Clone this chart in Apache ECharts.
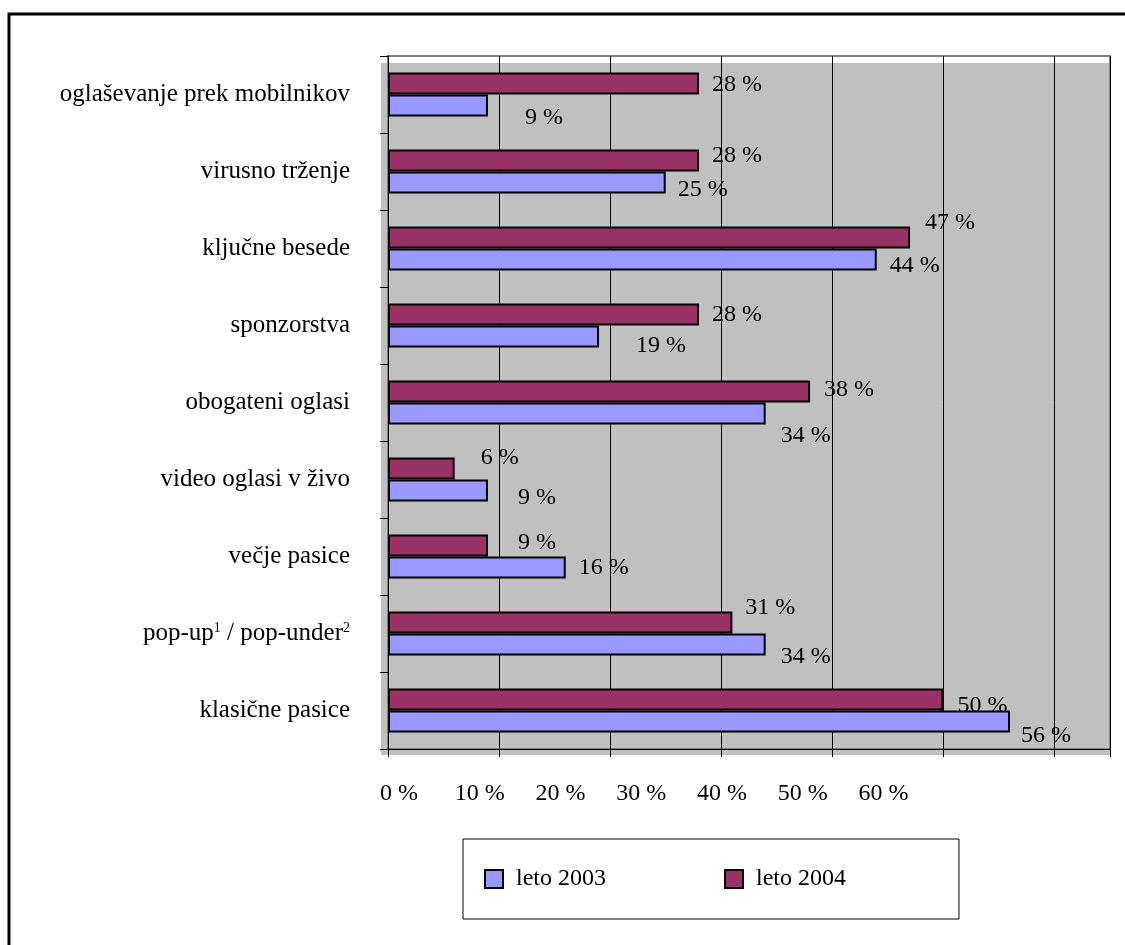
<!DOCTYPE html>
<html>
<head>
<meta charset="utf-8">
<script src="https://cdn.jsdelivr.net/npm/echarts@6/dist/echarts.min.js"></script>
<style>html,body{margin:0;padding:0;background:#fff;}#c{width:1125px;height:945px;}</style>
</head>
<body>
<div id="c"></div>
<script>
// categories, top to bottom
const categories = [
  'oglaševanje prek mobilnikov',
  'virusno trženje',
  'ključne besede',
  'sponzorstva',
  'obogateni oglasi',
  'video oglasi v živo',
  'večje pasice',
  'pop-up{sup|1} / pop-under{sup|2}',
  'klasične pasice'
];
const values2003 = [9, 25, 44, 19, 34, 9, 16, 34, 56];
const values2004 = [28, 28, 47, 28, 38, 6, 9, 31, 50];
const xTicks = [0, 10, 20, 30, 40, 50, 60];
const seriesNames = ['leto 2003', 'leto 2004'];

// label nudges (style only) [dx, dy]
const nudge2003 = [[24,12],[-1,7],[0,6],[24,9],[2,22],[17,7],[0,0],[2,12],[-2,14]];
const nudge2004 = [[0,1],[0,-5],[2,-15],[0,0],[1,-2],[13,-11],[17,-3],[0,-15],[1,6]];

const FONT = 'Liberation Serif';
const chart = echarts.init(document.getElementById('c'), null, {renderer: 'canvas'});

function mk(vals, nud) {
  return vals.map((v, i) => ({value: v, label: {offset: nud[i]}}));
}

const labelCommon = {
  show: true, position: 'right', distance: 13,
  fontFamily: FONT, fontSize: 24, color: '#000',
  formatter: p => p.value + ' %'
};

chart.setOption({
  animation: false,
  backgroundColor: '#fff',
  textStyle: {fontFamily: FONT},
  graphic: [
    {type: 'rect', z: -10, shape: {x: 381, y: 63, width: 729, height: 692}, style: {fill: '#C0C0C0'}},
    {type: 'rect', z: 100, shape: {x: 9, y: 14, width: 1130, height: 940}, style: {fill: 'none', stroke: '#000', lineWidth: 3}}
  ],
  grid: {
    left: 388, top: 56, right: 15, bottom: 196,
    show: true, backgroundColor: 'transparent', borderColor: '#808080', borderWidth: 2
  },
  legend: {
    data: seriesNames,
    left: 463, top: 839,
    orient: 'horizontal',
    icon: 'rect',
    itemWidth: 18, itemHeight: 18,
    itemGap: 118,
    padding: [28, 113, 28, 21],
    borderColor: '#000', borderWidth: 1,
    backgroundColor: '#fff',
    textStyle: {fontFamily: FONT, fontSize: 24, color: '#000', padding: [0, 0, 0, 8]},
    itemStyle: {borderColor: '#000', borderWidth: 2}
  },
  xAxis: [
    {
      type: 'value', min: 0, max: 65, interval: 10,
      axisLine: {show: true, lineStyle: {color: '#000', width: 1}},
      axisTick: {show: true, length: 8, lineStyle: {color: '#000'}},
      splitLine: {show: true, lineStyle: {color: '#000', width: 1}},
      axisLabel: {show: false}
    },
    {
      // tick labels as drawn in the reference (their own spacing)
      type: 'value', position: 'bottom', min: 0, max: 89.4, interval: 10,
      axisLine: {show: false}, axisTick: {show: false}, splitLine: {show: false},
      axisLabel: {
        fontFamily: FONT, fontSize: 24, color: '#000', margin: 33,
        padding: [0, 0, 0, 22],
        showMaxLabel: false,
        formatter: v => (xTicks.indexOf(v) >= 0 ? v + ' %' : '')
      }
    }
  ],
  yAxis: {
    type: 'category', data: categories, inverse: true,
    axisLine: {show: true, lineStyle: {color: '#000', width: 1}},
    axisTick: {show: true, length: 8, lineStyle: {color: '#000'}},
    splitLine: {show: false},
    axisLabel: {
      fontFamily: FONT, fontSize: 25, color: '#000', margin: 38,
      rich: {sup: {fontFamily: FONT, fontSize: 14, color: '#000', verticalAlign: 'top', padding: [0, 0, 10, 0]}}
    }
  },
  series: [
    {
      name: 'leto 2004', type: 'bar', data: mk(values2004, nudge2004),
      barWidth: 22, barGap: '0%',
      itemStyle: {color: '#993366', borderColor: '#000', borderWidth: 2},
      label: labelCommon
    },
    {
      name: 'leto 2003', type: 'bar', data: mk(values2003, nudge2003),
      barWidth: 22, barGap: '0%',
      itemStyle: {color: '#9999FF', borderColor: '#000', borderWidth: 2},
      label: labelCommon
    }
  ]
});
</script>
</body>
</html>
